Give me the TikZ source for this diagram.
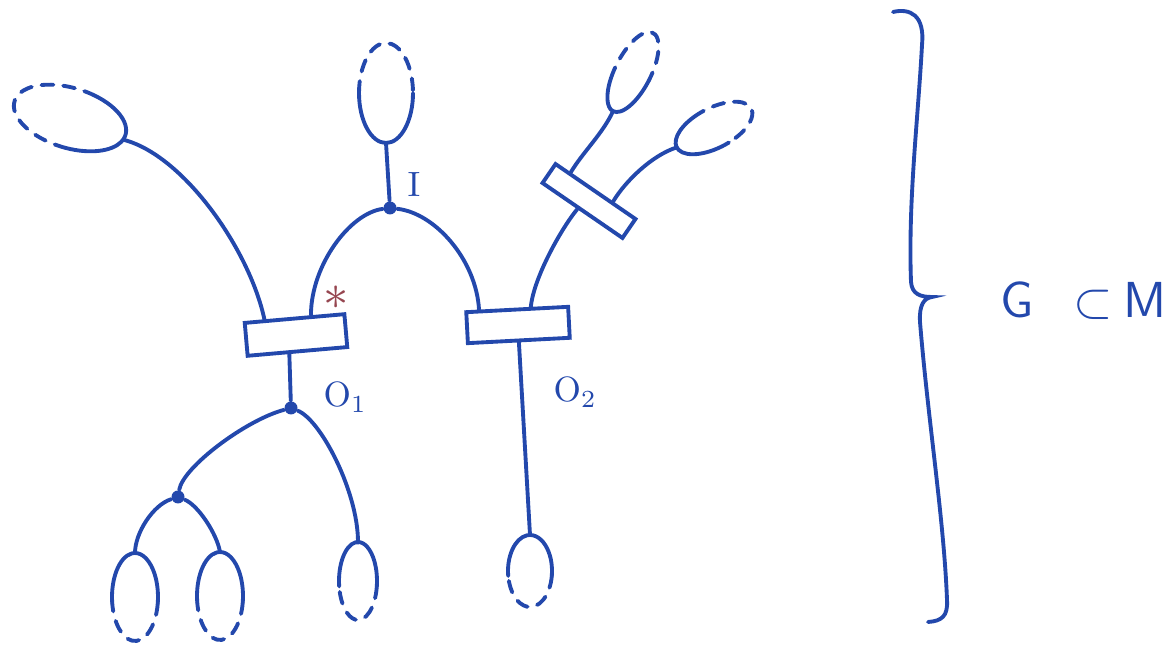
\documentclass[tikz,border=0pt]{standalone}
\usetikzlibrary{calc}
\definecolor{ink}{RGB}{35,72,172}
\definecolor{starred}{RGB}{150,70,80}

\begin{document}
\begin{tikzpicture}[x=0.1mm, y=-0.1mm,
    pen/.style={ink, line width=1.1pt, line cap=round},
    dashpen/.style={pen, dash pattern=on 3.4pt off 2.8pt},
    bar/.style={draw=ink, line width=1.1pt, rectangle, inner sep=0pt},
    knot/.style={circle, fill=ink, inner sep=0pt, minimum size=1.3mm},
    lbl/.style={text=ink, anchor=base west, inner sep=0pt}]

  \useasboundingbox (0,0) rectangle (1174,647);

  % the three boxes
  \node[bar, minimum width=10mm, minimum height=3.3mm, rotate=5] (b1) at (296,335) {};
  \node[bar, minimum width=10.2mm, minimum height=3.1mm, rotate=3] (b2) at (518,325) {};
  \node[bar, minimum width=9.7mm, minimum height=2.3mm, rotate=-34.5] (b3) at (589,201) {};

  % junctions
  \node[knot] (dI) at (390,208) {};
  \node[knot] (dO) at (291,408) {};
  \node[knot] (dL) at (178,497) {};

  % loops, solid part and dashed part
  \begin{scope}[shift={(386,93)}]
    \draw[pen] (0:27 and 50) arc[start angle=0, end angle=180, x radius=27, y radius=50];
    \draw[dashpen] (180:27 and 50) arc[start angle=180, end angle=360, x radius=27, y radius=50];
    \coordinate (lI) at (90:27 and 50);
  \end{scope}
  \begin{scope}[shift={(70,118)}, rotate=-17]
    \draw[pen] (-75:58 and 30) arc[start angle=-75, end angle=85, x radius=58, y radius=30];
    \draw[dashpen] (85:58 and 30) arc[start angle=85, end angle=285, x radius=58, y radius=30];
    \coordinate (lW) at (10:58 and 30);
  \end{scope}
  \begin{scope}[shift={(633,72)}, rotate=63]
    \draw[pen] (91:44 and 18) arc[start angle=91, end angle=249, x radius=44, y radius=18];
    \draw[dashpen] (249:44 and 18) arc[start angle=249, end angle=451, x radius=44, y radius=18];
    \coordinate (lA) at (180:44 and 18);
  \end{scope}
  \begin{scope}[shift={(714,128)}, rotate=27.5]
    \draw[pen] (81:42 and 20) arc[start angle=81, end angle=252, x radius=42, y radius=20];
    \draw[dashpen] (252:42 and 20) arc[start angle=252, end angle=441, x radius=42, y radius=20];
    \coordinate (lB) at (180:42 and 20);
  \end{scope}
  \foreach \cx/\cy/\rx/\ry/\nm in {135/597/23/44/l1, 220/596/23/44/l2, 358/581/19/39/l3, 530/571/22/36/lR} {
    \begin{scope}[shift={(\cx,\cy)}]
      \draw[pen] ({\rx*cos(172)},{\ry*sin(172)}) arc[start angle=172, end angle=368, x radius=\rx, y radius=\ry];
      \draw[dashpen] ({\rx*cos(8)},{\ry*sin(8)}) arc[start angle=8, end angle=172, x radius=\rx, y radius=\ry];
      \coordinate (\nm) at (0,-\ry);
    \end{scope}
  }

  % upper connectors
  \draw[pen] (lI) -- (dI);
  \draw[pen] (lW) .. controls +(60,15) and +(-15,-70) .. ($(b1.north west)!0.21!(b1.north east)$);
  \draw[pen] (dI) .. controls +(-40,5) and +(0,-50) .. ($(b1.north west)!0.66!(b1.north east)$);
  \draw[pen] (dI) .. controls +(45,5) and +(-3,-50) .. ($(b2.north west)!0.14!(b2.north east)$);
  \draw[pen] (lA) .. controls +(-10,22) and +(12,-20) .. ($(b3.north west)!0.19!(b3.north east)$);
  \draw[pen] (lB) .. controls +(-25,8) and +(12,-20) .. ($(b3.north west)!0.7!(b3.north east)$);
  \draw[pen] ($(b3.south west)!0.45!(b3.south east)$) .. controls +(-15,18) and +(3,-30) .. ($(b2.north west)!0.63!(b2.north east)$);

  % lower connectors
  \draw[pen] ($(b1.south west)!0.42!(b1.south east)$) -- (dO);
  \draw[pen] (dO) .. controls +(-45,12) and +(5,-30) .. (dL);
  \draw[pen] (dO) .. controls +(30,12) and +(0,-50) .. (l3);
  \draw[pen] (dL) .. controls +(-25,8) and +(0,-20) .. (l1);
  \draw[pen] (dL) .. controls +(20,8) and +(-3,-18) .. (l2);
  \draw[pen] ($(b2.south west)!0.5!(b2.south east)$) -- (lR);

  % brace
  \draw[pen] (893,12) .. controls (910,8) and (925,15) .. (922,45)
    .. controls (918,120) and (908,200) .. (911,282)
    .. controls (912,294) and (920,297) .. (932,297)
    .. controls (924,298) and (919,305) .. (920,322)
    .. controls (928,420) and (944,520) .. (947,600)
    .. controls (948,616) and (942,621) .. (928,622);

  % labels
  \node[lbl] (tI) at (407,197) {$\mathrm{I}$};
  \node[lbl] (tO1) at (323,407) {$\mathrm{O}_1$};
  \node[lbl] (tO2) at (553,402) {$\mathrm{O}_2$};
  \node[text=starred, inner sep=0pt, font=\Large] (star) at (336,298) {$\ast$};
  \node[lbl, font=\Large] (gm) at (1000,318) {$\mathsf{G}\hspace{4mm}{\subset}\hspace{1mm}\mathsf{M}$};
\end{tikzpicture}
\end{document}
